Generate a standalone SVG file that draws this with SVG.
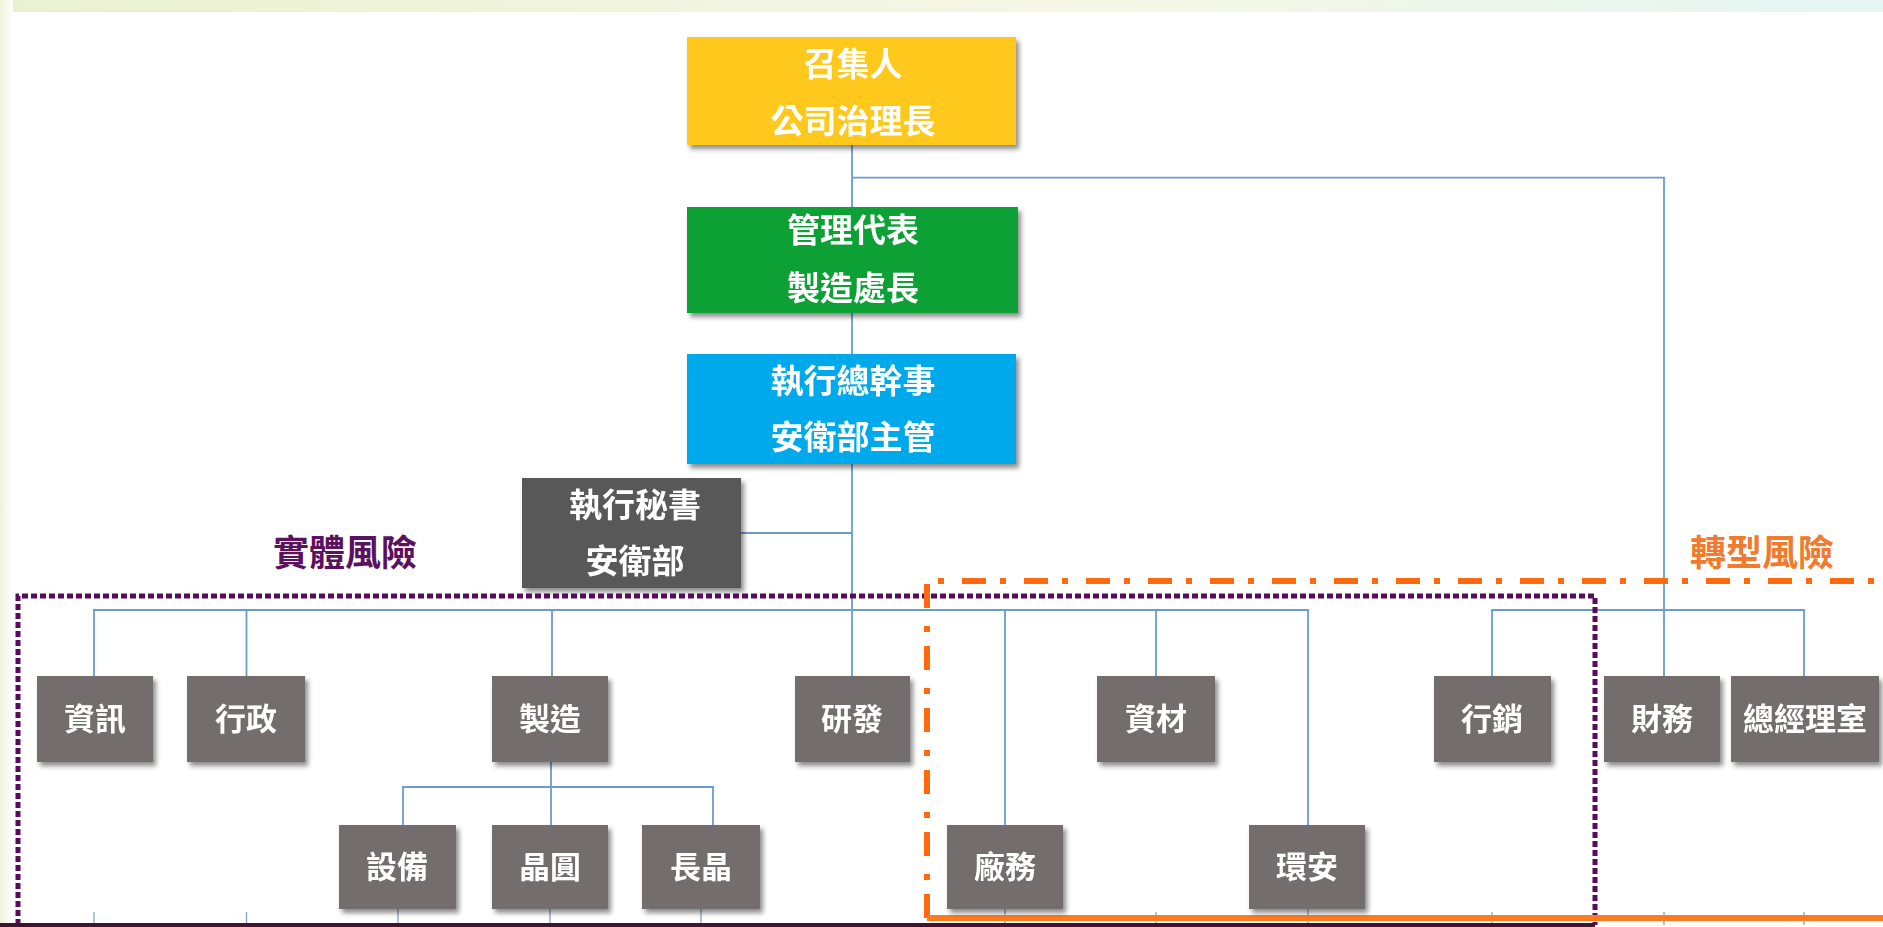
<svg xmlns="http://www.w3.org/2000/svg" width="1883" height="927" viewBox="0 0 1883 927">
<style>
.t{font-family:"Noto Sans CJK TC","Noto Sans CJK SC",sans-serif;font-weight:700;fill:#ffffff;text-anchor:middle;}
.big{font-size:33px;}
.sm{font-size:31px;}
.box{fill:#736d6d;}
.ln{fill:none;stroke:#6b9bd2;stroke-width:1.8;}
.stub{fill:none;stroke:#8aa9cf;stroke-width:1.4;}
.lab{font-family:"Noto Sans CJK TC","Noto Sans CJK SC",sans-serif;font-weight:700;font-size:36px;text-anchor:middle;}
</style>
<defs>
<filter id="sh" x="-10%" y="-10%" width="130%" height="140%">
<feDropShadow dx="3" dy="4" stdDeviation="2.5" flood-color="#000" flood-opacity="0.45"/>
</filter>
<linearGradient id="top" x1="0" y1="0" x2="1" y2="0">
<stop offset="0" stop-color="#eaf0d2"/>
<stop offset="0.6" stop-color="#f6f8e6"/>
<stop offset="1" stop-color="#e4f5f3"/>
</linearGradient>
<linearGradient id="left" x1="0" y1="0" x2="1" y2="0">
<stop offset="0" stop-color="#eef3d8"/>
<stop offset="1" stop-color="#ffffff"/>
</linearGradient>
</defs>
<rect width="1883" height="927" fill="#ffffff"/>
<rect x="0" y="0" width="1883" height="12" fill="url(#top)"/>
<rect x="0" y="0" width="13" height="927" fill="url(#left)"/>

<g id="connectors">
<path class="ln" d="M852,145 V207 M852,313 V354 M852,464 V676"/>
<path class="ln" d="M852,177.7 H1664 V676"/>
<path class="ln" d="M741,533 H852"/>
<path class="ln" d="M94,676 V610 H1308 V825"/>
<path class="ln" d="M246.5,610 V676 M552,610 V676 M1005,610 V825 M1156,610 V676"/>
<path class="ln" d="M1492,676 V610 H1804 V676"/>
<path class="ln" d="M551,762 V825 M403,825 V787 H713 V825"/>
<path class="stub" d="M94,912 V925 M246.5,912 V925 M398,909 V925 M550,909 V925 M701,909 V925 M1005,909 V925 M1156,912 V925 M1308,909 V925 M1492,912 V925 M1664,912 V925 M1804,912 V925"/>
</g>

<g id="group-physical">
<path d="M18,925 V596 H1595 V925" fill="none" stroke="#5a0a5c" stroke-width="5" stroke-dasharray="6 3"/>
<path d="M0,925 H1595" stroke="#3e1530" stroke-width="4"/>
<text class="lab" x="345" y="566" fill="#5c1160">實體風險</text>
</g>

<g id="group-transition">
<path d="M927,918 V581 H1883" fill="none" stroke="#ff6a10" stroke-width="6" stroke-dasharray="24 14 6 18"/>
<path d="M927,918 H1883" stroke="#ff7a1c" stroke-width="6"/>
<text class="lab" x="1762" y="566" fill="#f27a2c">轉型風險</text>
</g>

<g id="n-convener" filter="url(#sh)">
<rect x="687" y="37" width="329" height="108" fill="#fec81b"/>
<text class="t big" x="853" y="76">召集人</text>
<text class="t big" x="853" y="133">公司治理長</text>
</g>
<g id="n-rep" filter="url(#sh)">
<rect x="687" y="207" width="331" height="106" fill="#0ba035"/>
<text class="t big" x="853" y="242">管理代表</text>
<text class="t big" x="853" y="300">製造處長</text>
</g>
<g id="n-exec" filter="url(#sh)">
<rect x="687" y="354" width="329" height="110" fill="#00a9ec"/>
<text class="t big" x="853" y="393">執行總幹事</text>
<text class="t big" x="853" y="449">安衛部主管</text>
</g>
<g id="n-sec" filter="url(#sh)">
<rect x="522" y="478" width="219" height="110" fill="#585858"/>
<text class="t big" x="635" y="517">執行秘書</text>
<text class="t big" x="635" y="573">安衛部</text>
</g>

<g id="n-it" filter="url(#sh)"><rect class="box" x="37" y="676" width="116" height="86"/><text class="t sm" x="95" y="730">資訊</text></g>
<g id="n-admin" filter="url(#sh)"><rect class="box" x="187" y="676" width="118" height="86"/><text class="t sm" x="246" y="730">行政</text></g>
<g id="n-mfg" filter="url(#sh)"><rect class="box" x="492" y="676" width="116" height="86"/><text class="t sm" x="550" y="730">製造</text></g>
<g id="n-rd" filter="url(#sh)"><rect class="box" x="795" y="676" width="115" height="86"/><text class="t sm" x="852" y="730">研發</text></g>
<g id="n-mat" filter="url(#sh)"><rect class="box" x="1097" y="676" width="118" height="86"/><text class="t sm" x="1156" y="730">資材</text></g>
<g id="n-mkt" filter="url(#sh)"><rect class="box" x="1434" y="676" width="117" height="86"/><text class="t sm" x="1492" y="730">行銷</text></g>
<g id="n-fin" filter="url(#sh)"><rect class="box" x="1604" y="676" width="116" height="86"/><text class="t sm" x="1662" y="730">財務</text></g>
<g id="n-gm" filter="url(#sh)"><rect class="box" x="1731" y="676" width="148" height="86"/><text class="t sm" x="1805" y="730">總經理室</text></g>
<g id="n-equip" filter="url(#sh)"><rect class="box" x="339" y="825" width="117" height="84"/><text class="t sm" x="397" y="878">設備</text></g>
<g id="n-wafer" filter="url(#sh)"><rect class="box" x="492" y="825" width="116" height="84"/><text class="t sm" x="550" y="878">晶圓</text></g>
<g id="n-crystal" filter="url(#sh)"><rect class="box" x="642" y="825" width="118" height="84"/><text class="t sm" x="701" y="878">長晶</text></g>
<g id="n-fac" filter="url(#sh)"><rect class="box" x="947" y="825" width="116" height="84"/><text class="t sm" x="1005" y="878">廠務</text></g>
<g id="n-env" filter="url(#sh)"><rect class="box" x="1249" y="825" width="116" height="84"/><text class="t sm" x="1307" y="878">環安</text></g>
</svg>
